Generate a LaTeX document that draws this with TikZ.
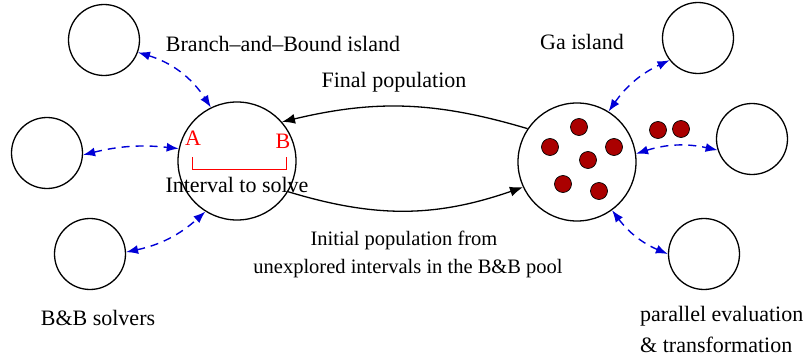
\documentclass[tikz,border=0pt]{standalone}
\usepackage{fontspec}
\setmainfont{Liberation Serif}
\usetikzlibrary{
	arrows.meta,
	positioning
}
\definecolor{DarkRed}{RGB}{170,0,0}
\definecolor{LinkBlue}{RGB}{0,0,215}
\definecolor{BoundRed}{RGB}{255,0,0}

\tikzset{
	island/.style={circle, draw, line width=1.3pt, minimum size=118pt, inner sep=0pt},
	worker/.style={circle, draw, line width=1.3pt, minimum size=71pt, inner sep=0pt},
	gene/.style={circle, draw, line width=0.7pt, fill=DarkRed, minimum size=17pt, inner sep=0pt},
	link/.style={LinkBlue, line width=1.4pt, dash pattern=on 8pt off 6pt,
		{Latex[length=12pt,width=9pt]}-{Latex[length=12pt,width=9pt]}},
	flow/.style={line width=1.3pt, -{Latex[length=13pt,width=10pt]}},
	lbl/.style={font=\fontsize{22}{26}\selectfont, inner sep=0pt, anchor=base},
	smalllbl/.style={font=\fontsize{20.5}{24}\selectfont, inner sep=0pt, anchor=base}
}

\begin{document}
\begin{tikzpicture}[x=1pt, y=-1pt]
		\useasboundingbox (0,0) rectangle (807,361);
		
		% les deux iles
		\node[island] (bb) at (237,161) {};
		\node[island] (ga) at (577,162) {};
		
		% solveurs B&B et evaluateurs du Ga
		\node[worker] (solverA) at (104,40) {};
		\node[worker] (solverB) at (47,153) {};
		\node[worker] (solverC) at (90,254) {};
		\node[worker] (evalA) at (698,38) {};
		\node[worker] (evalB) at (752,139) {};
		\node[worker] (evalC) at (704,254) {};
		
		% individus de la population
		\foreach \i/\px/\py in {1/579/127, 2/550/147, 3/614/147, 4/588/160,
			5/563/184, 6/599/191, 7/658/130, 8/681/129}
			\node[gene] (gene\i) at (\px,\py) {};
		
		% intervalle [A,B]
		\coordinate (A) at (192,157);
		\coordinate (B) at (286,157);
		\draw[BoundRed, line width=1pt] (A) -- ++(0,12) -| (B);
		\node[lbl, text=BoundRed] (labA) at (193,146) {A};
		\node[lbl, text=BoundRed] (labB) at (283,148) {B};
		
		% echanges
		\draw[link] (solverA.-20) to[bend left=20] (bb.116);
		\draw[link] (solverB.-3) to[bend left=10] (bb.168);
		\draw[link] (solverC.3) to[bend right=15] (bb.238);
		\draw[link] (ga.58) to[bend left=15] (evalA.218);
		\draw[link] (ga.8) to[bend left=15] (evalB.198);
		\draw[link] (ga.-54) to[bend right=15] (evalC.180);
		
		\draw[flow] (ga.146) to[bend right=15] (bb.41);
		\draw[flow] (bb.-31) to[bend right=18] (ga.205);
		
		% textes
		\node[lbl] (bbname) at (283,52) {Branch--and--Bound island};
		\node[lbl] (ganame) at (582,50) {Ga island};
		\node[lbl] (finalpop) at (394,88) {Final population};
		\node[lbl] (interval) at (237,193) {Interval to solve};
		\node[smalllbl] (initpopA) at (404,245) {Initial population from};
		\node[smalllbl] (initpopB) at (408,273) {unexplored intervals in the B\&B pool};
		\node[lbl] (solvers) at (98,325) {B\&B solvers};
		\node[lbl, anchor=base west] (evaltextA) at (640,321) {parallel evaluation};
		\node[lbl, anchor=base west] (evaltextB) at (640,352) {\& transformation};
	\end{tikzpicture}
\end{document}
